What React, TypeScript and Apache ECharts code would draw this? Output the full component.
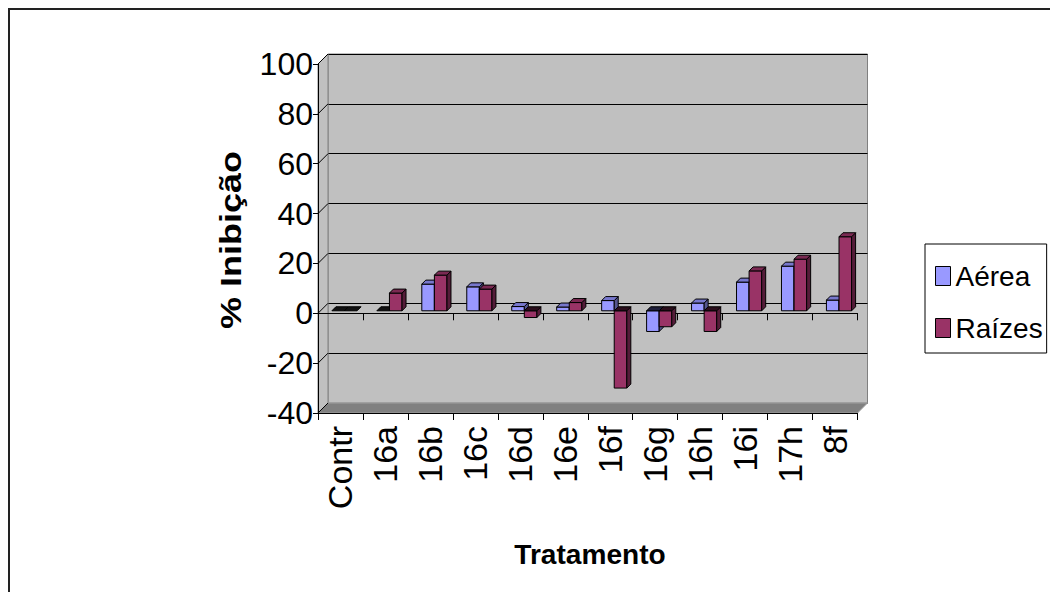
import React, { useEffect, useRef } from "react";
import * as echarts from "echarts";

// Treatments on the category axis
const categories = ["Contr", "16a", "16b", "16c", "16d", "16e", "16f", "16g", "16h", "16i", "17h", "8f"];
// % inhibition, shoots
const aerea = [0, 0, 10.7, 9.6, 1.7, 1.5, 4.1, -8.3, 3.1, 11.5, 17.9, 4.3];
// % inhibition, roots
const raizes = [0, 7.1, 14.3, 8.7, -2.7, 3.3, -31.0, -6.4, -8.3, 16.0, 20.7, 29.7];
const seriesNames = ["Aérea", "Raízes"];

const Y_MIN = -40;
const Y_MAX = 100;
const Y_STEP = 20;

const FONT = '"Liberation Sans", Arial, Helvetica, sans-serif';

// Face colours for the pseudo-3D columns
const palette = [
  { front: "#9999FF", top: "#7777CC", side: "#55558F", base: "#1E1E3A" },
  { front: "#993366", top: "#7A2952", side: "#551C39", base: "#2A0D1B" },
];

const WALL_DEPTH = 10; // offset of the back wall from the front plane
const BAR_SHIFT_X = 4;
const BAR_SHIFT_Y = -2.5;
const BAR_DEPTH = 4;
const BAR_FRAC = 0.28;

const edge = { stroke: "#000", lineWidth: 1 };

function makeBarRenderer(si: number) {
  return (params: any, api: any) => {
    const i = api.value(0);
    const v = api.value(1);
    const band = api.size([1, 0])[0];
    const w = band * BAR_FRAC;
    const c = api.coord([i, 0]);
    const y0 = c[1] + BAR_SHIFT_Y;
    const yv = api.coord([i, v])[1] + BAR_SHIFT_Y;
    const left = c[0] + BAR_SHIFT_X + (si === 0 ? -w : 0);
    const right = left + w;
    const d = BAR_DEPTH;
    const col = palette[si];
    const children: any[] = [];
    if (v > 0) {
      children.push({
        type: "rect",
        shape: { x: left, y: yv, width: w, height: y0 - yv },
        style: { fill: col.front, ...edge },
      });
      children.push({
        type: "polygon",
        shape: { points: [[right, yv], [right + d, yv - d], [right + d, y0 - d], [right, y0]] },
        style: { fill: col.side, ...edge },
      });
      children.push({
        type: "polygon",
        shape: { points: [[left, yv], [right, yv], [right + d, yv - d], [left + d, yv - d]] },
        style: { fill: col.top, ...edge },
      });
    } else if (v < 0) {
      children.push({
        type: "rect",
        shape: { x: left, y: y0, width: w, height: yv - y0 },
        style: { fill: col.front, ...edge },
      });
      children.push({
        type: "polygon",
        shape: { points: [[right, y0], [right + d, y0 - d], [right + d, yv - d], [right, yv]] },
        style: { fill: col.side, ...edge },
      });
      children.push({
        type: "polygon",
        shape: { points: [[left, y0], [right, y0], [right + d, y0 - d], [left + d, y0 - d]] },
        style: { fill: col.base, ...edge },
      });
    } else {
      children.push({
        type: "polygon",
        shape: { points: [[left, y0], [right, y0], [right + d, y0 - d], [left + d, y0 - d]] },
        style: { fill: "#111", ...edge },
      });
    }
    return { type: "group", children };
  };
}

// Side wall, floor and the diagonal grid ticks joining the front axis to the back wall
function renderWalls(params: any, api: any) {
  const band = api.size([1, 0])[0];
  const n = categories.length;
  const xL = api.coord([0, Y_MIN])[0] - band / 2;
  const xR = api.coord([n - 1, Y_MIN])[0] + band / 2;
  const yB = api.coord([0, Y_MIN])[1];
  const yT = api.coord([0, Y_MAX])[1];
  const D = WALL_DEPTH;
  const children: any[] = [
    {
      type: "polygon",
      shape: { points: [[xL, yT], [xL, yB], [xL + D, yB - D], [xL + D, yT - D]] },
      style: { fill: "#C0C0C0", stroke: "#808080", lineWidth: 1 },
    },
    {
      type: "polygon",
      shape: { points: [[xL, yB], [xR, yB], [xR + D, yB - D], [xL + D, yB - D]] },
      style: { fill: "#808080", stroke: "#A0A0A0", lineWidth: 1 },
    },
  ];
  for (let v = Y_MIN; v <= Y_MAX; v += Y_STEP) {
    const y = api.coord([0, v])[1];
    children.push({
      type: "line",
      shape: { x1: xL, y1: y, x2: xL + D, y2: y - D },
      style: { stroke: "#000", lineWidth: 1 },
    });
  }
  return { type: "group", children };
}

export default function App() {
  const ref = useRef<HTMLDivElement>(null);

  useEffect(() => {
    if (!ref.current) return;
    const chart = echarts.init(ref.current, undefined, { renderer: "svg" });
    const frontGrid = { left: 318, right: 1050 - 857.5, top: 64, bottom: 592 - 413 };
    const backGrid = {
      left: frontGrid.left + WALL_DEPTH,
      right: frontGrid.right - WALL_DEPTH,
      top: frontGrid.top - WALL_DEPTH,
      bottom: frontGrid.bottom + WALL_DEPTH,
    };

    chart.setOption({
      animation: false,
      backgroundColor: "#fff",
      grid: [
        { ...frontGrid, show: false },
        {
          ...backGrid,
          show: true,
          backgroundColor: "#C0C0C0",
          borderColor: "#808080",
          borderWidth: 1,
        },
      ],
      xAxis: [
        {
          gridIndex: 0,
          type: "category",
          data: categories,
          position: "bottom",
          z: 2,
          axisLine: { onZero: true, lineStyle: { color: "#000", width: 1 } },
          axisTick: { show: true, length: 7, lineStyle: { color: "#000" } },
          axisLabel: { show: false },
          splitLine: { show: false },
        },
        {
          gridIndex: 0,
          type: "category",
          data: categories,
          position: "bottom",
          z: 2,
          axisLine: { onZero: false, lineStyle: { color: "#000", width: 1 } },
          axisTick: { show: true, length: 7, lineStyle: { color: "#000" } },
          axisLabel: {
            show: true,
            rotate: 90,
            margin: 13,
            fontSize: 34,
            color: "#000",
            fontFamily: FONT,
          },
          splitLine: { show: false },
        },
        {
          gridIndex: 1,
          type: "category",
          data: categories,
          show: false,
        },
      ],
      yAxis: [
        {
          gridIndex: 0,
          type: "value",
          min: Y_MIN,
          max: Y_MAX,
          interval: Y_STEP,
          z: 2,
          axisLine: { show: true, lineStyle: { color: "#000", width: 1 } },
          axisTick: { show: true, length: 5, lineStyle: { color: "#000" } },
          axisLabel: { margin: 5, fontSize: 32, color: "#000", fontFamily: FONT },
          splitLine: { show: false },
        },
        {
          gridIndex: 1,
          type: "value",
          min: Y_MIN,
          max: Y_MAX,
          interval: Y_STEP,
          axisLine: { show: false },
          axisTick: { show: false },
          axisLabel: { show: false },
          splitLine: { show: true, lineStyle: { color: "#000", width: 1 } },
        },
      ],
      legend: {
        orient: "vertical",
        left: 925,
        top: 244,
        data: seriesNames,
        icon: "rect",
        itemWidth: 15,
        itemHeight: 19,
        itemGap: 24,
        padding: [18, 4, 11, 10],
        backgroundColor: "#fff",
        borderColor: "#000",
        borderWidth: 1,
        selectedMode: false,
        itemStyle: { borderColor: "#000", borderWidth: 1 },
        textStyle: { fontSize: 28, color: "#000", fontFamily: FONT },
      },
      graphic: [
        {
          type: "rect",
          silent: true,
          z: -10,
          shape: { x: 9, y: 9, width: 1400, height: 900 },
          style: { fill: "transparent", stroke: "#222", lineWidth: 2 },
        },
        {
          type: "text",
          x: 231,
          y: 240,
          rotation: Math.PI / 2,
          scaleX: 1.2,
          style: {
            text: "% Inibição",
            fontSize: 30,
            fontWeight: "bold",
            fontFamily: FONT,
            fill: "#000",
            align: "center",
            verticalAlign: "middle",
          },
        },
        {
          type: "text",
          x: 590,
          y: 555,
          scaleX: 1.04,
          style: {
            text: "Tratamento",
            fontSize: 27,
            fontWeight: "bold",
            fontFamily: FONT,
            fill: "#000",
            align: "center",
            verticalAlign: "middle",
          },
        },
      ],
      series: [
        {
          type: "custom",
          name: "walls",
          xAxisIndex: 0,
          yAxisIndex: 0,
          z: 1,
          silent: true,
          renderItem: renderWalls,
          data: [[0, Y_MIN]],
        },
        {
          type: "custom",
          name: seriesNames[0],
          xAxisIndex: 0,
          yAxisIndex: 0,
          z: 3,
          itemStyle: { color: palette[0].front },
          renderItem: makeBarRenderer(0),
          encode: { x: 0, y: 1 },
          data: aerea.map((v, i) => [i, v]),
        },
        {
          type: "custom",
          name: seriesNames[1],
          xAxisIndex: 0,
          yAxisIndex: 0,
          z: 3,
          itemStyle: { color: palette[1].front },
          renderItem: makeBarRenderer(1),
          encode: { x: 0, y: 1 },
          data: raizes.map((v, i) => [i, v]),
        },
      ],
    });

    return () => chart.dispose();
  }, []);

  return (
    <div
      ref={ref}
      style={{ position: "fixed", left: 0, top: 0, width: 1050, height: 592, background: "#fff" }}
    />
  );
}
